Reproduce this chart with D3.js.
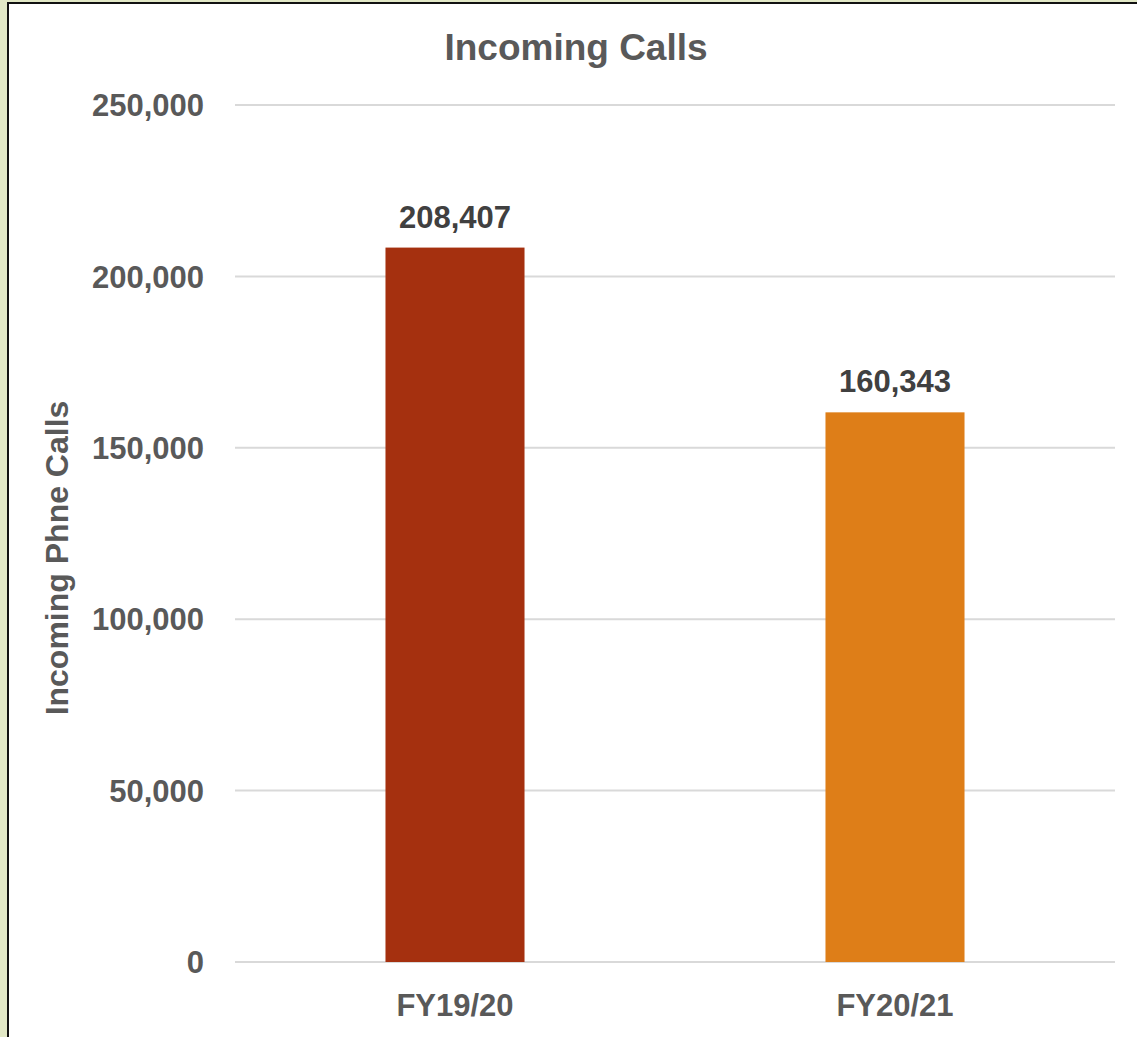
<!DOCTYPE html>
<html>
<head>
<meta charset="utf-8">
<script src="https://cdn.jsdelivr.net/npm/d3@7"></script>
<style>
  body { margin: 0; background: #e2e8c6; }
  svg { display: block; }
  text { font-family: "Liberation Sans", Arial, sans-serif; font-weight: bold; }
</style>
</head>
<body>
<svg width="1137" height="1037"></svg>
<script>
var categories = ["FY19/20", "FY20/21"];
var calls = [208407, 160343];
var barColors = ["#a5300f", "#de7e18"];
var yTicks = [0, 50000, 100000, 150000, 200000, 250000];

var svg = d3.select("svg"),
    width = +svg.attr("width"),
    height = +svg.attr("height");

// chart frame
svg.append("rect")
    .attr("x", 8).attr("y", 3)
    .attr("width", width + 10).attr("height", height + 10)
    .attr("fill", "#fff")
    .attr("stroke", "#111")
    .attr("stroke-width", 2);

var plotLeft = 235, plotRight = 1115, plotTop = 105, plotBottom = 962;

var x = d3.scaleBand().domain(categories).range([plotLeft, plotRight]).paddingInner(0.684).paddingOuter(0.342);
var y = d3.scaleLinear().domain([0, 250000]).range([plotBottom, plotTop]);
var fmt = d3.format(",");

// gridlines
svg.append("g").selectAll("line").data(yTicks)
  .enter().append("line")
    .attr("x1", plotLeft).attr("x2", plotRight)
    .attr("y1", function(d) { return y(d); })
    .attr("y2", function(d) { return y(d); })
    .attr("stroke", "#d9d9d9")
    .attr("stroke-width", 2);

// y tick labels
svg.append("g").selectAll("text").data(yTicks)
  .enter().append("text")
    .attr("x", 204)
    .attr("y", function(d) { return y(d); })
    .attr("dy", "0.36em")
    .attr("text-anchor", "end")
    .attr("fill", "#595959")
    .style("font-size", "31px")
    .text(function(d) { return fmt(d); });

// bars
svg.append("g").selectAll("rect").data(calls)
  .enter().append("rect")
    .attr("x", function(d, i) { return x(categories[i]); })
    .attr("y", function(d) { return y(d); })
    .attr("width", x.bandwidth())
    .attr("height", function(d) { return plotBottom - y(d); })
    .attr("fill", function(d, i) { return barColors[i]; });

// value labels
svg.append("g").selectAll("text").data(calls)
  .enter().append("text")
    .attr("x", function(d, i) { return x(categories[i]) + x.bandwidth() / 2; })
    .attr("y", function(d) { return y(d) - 20; })
    .attr("text-anchor", "middle")
    .attr("fill", "#404040")
    .style("font-size", "31px")
    .text(function(d) { return fmt(d); });

// x labels
svg.append("g").selectAll("text").data(categories)
  .enter().append("text")
    .attr("x", function(d) { return x(d) + x.bandwidth() / 2; })
    .attr("y", 1016)
    .attr("text-anchor", "middle")
    .attr("fill", "#595959")
    .style("font-size", "31px")
    .text(function(d) { return d; });

// title
svg.append("text")
    .attr("x", 576).attr("y", 60)
    .attr("text-anchor", "middle")
    .attr("fill", "#595959")
    .style("font-size", "37px")
    .text("Incoming Calls");

// y axis title
svg.append("text")
    .attr("transform", "translate(68,558) rotate(-90)")
    .attr("text-anchor", "middle")
    .attr("fill", "#595959")
    .style("font-size", "32px")
    .text("Incoming Phne Calls");
</script>
</body>
</html>
